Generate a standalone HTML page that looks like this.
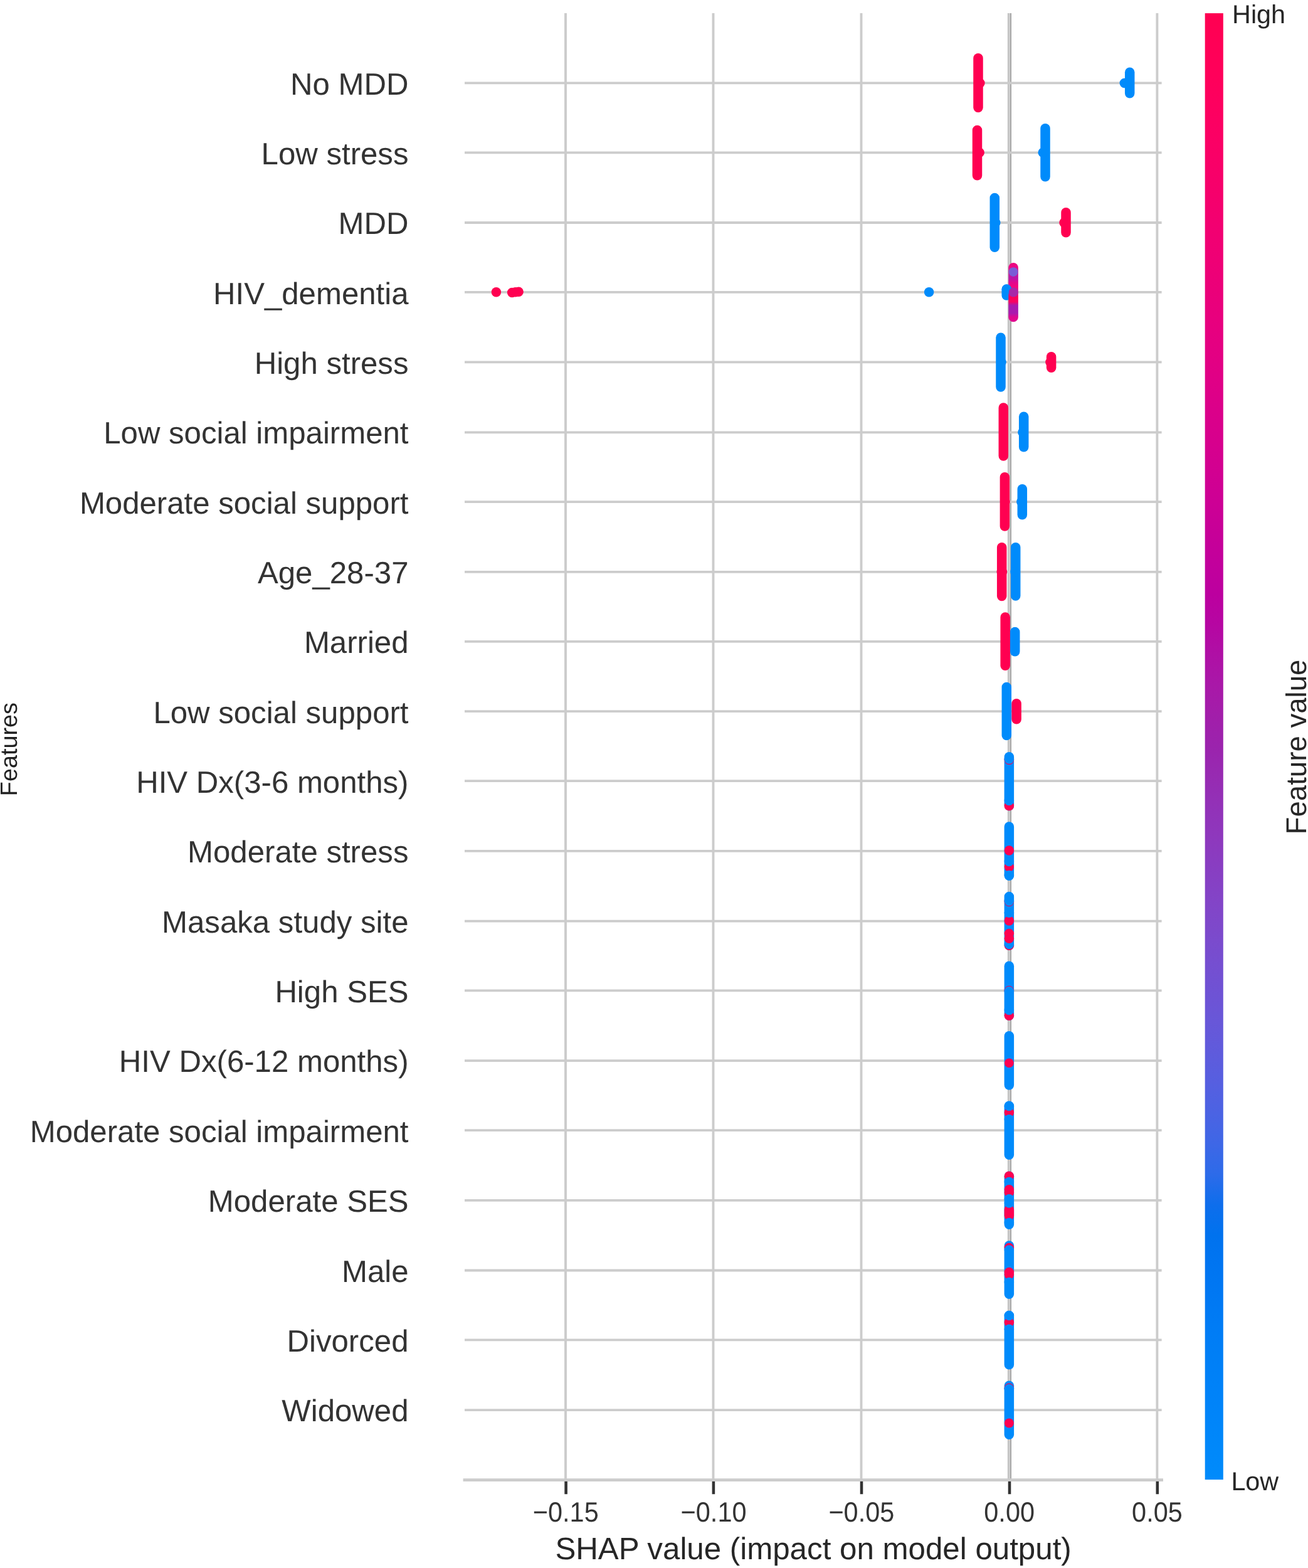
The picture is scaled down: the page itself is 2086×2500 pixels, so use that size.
<!DOCTYPE html>
<html lang="en"><head><meta charset="utf-8"><title>SHAP summary plot</title>
<style>html,body{margin:0;padding:0;background:#fff}body{width:2086px;height:2500px;overflow:hidden}svg{display:block}text{font-family:"Liberation Sans",Arial,Helvetica,sans-serif;text-rendering:geometricPrecision}.yl{font-size:49.16px;fill:#333333;text-anchor:end}.xt{font-size:41.46px;fill:#333333;text-anchor:middle}.xl{font-size:49.27px;fill:#262626;text-anchor:middle}.cb{font-size:41.3px;fill:#262626}.cl{font-size:45.6px;fill:#262626;text-anchor:middle}.fl{font-size:37.8px;fill:#222222;text-anchor:middle}</style>
</head><body>
<svg width="2086" height="2500" viewBox="0 0 2086 2500" role="img" aria-label="SHAP summary plot">
<defs><linearGradient id="cbg" x1="0" y1="1" x2="0" y2="0">
<stop offset="0.0000" stop-color="#008bfb"/>
<stop offset="0.0208" stop-color="#0088fa"/>
<stop offset="0.0417" stop-color="#0085f9"/>
<stop offset="0.0625" stop-color="#0082f8"/>
<stop offset="0.0833" stop-color="#007ff6"/>
<stop offset="0.1042" stop-color="#007cf5"/>
<stop offset="0.1250" stop-color="#0078f3"/>
<stop offset="0.1458" stop-color="#0075f1"/>
<stop offset="0.1667" stop-color="#0072ee"/>
<stop offset="0.1875" stop-color="#0e6eec"/>
<stop offset="0.2083" stop-color="#2d6be9"/>
<stop offset="0.2292" stop-color="#3e67e6"/>
<stop offset="0.2500" stop-color="#4b63e3"/>
<stop offset="0.2708" stop-color="#565fe0"/>
<stop offset="0.2917" stop-color="#5f5bdc"/>
<stop offset="0.3125" stop-color="#6857d8"/>
<stop offset="0.3333" stop-color="#6f52d4"/>
<stop offset="0.3542" stop-color="#764ed0"/>
<stop offset="0.3750" stop-color="#7d49cb"/>
<stop offset="0.3958" stop-color="#8344c7"/>
<stop offset="0.4167" stop-color="#883ec2"/>
<stop offset="0.4375" stop-color="#8e38bd"/>
<stop offset="0.4583" stop-color="#9232b8"/>
<stop offset="0.4792" stop-color="#972bb2"/>
<stop offset="0.5000" stop-color="#9b23ad"/>
<stop offset="0.5208" stop-color="#a21eaa"/>
<stop offset="0.5417" stop-color="#a918a8"/>
<stop offset="0.5625" stop-color="#af10a5"/>
<stop offset="0.5833" stop-color="#b606a2"/>
<stop offset="0.6042" stop-color="#bc009f"/>
<stop offset="0.6250" stop-color="#c2009c"/>
<stop offset="0.6458" stop-color="#c70098"/>
<stop offset="0.6667" stop-color="#cd0095"/>
<stop offset="0.6875" stop-color="#d20091"/>
<stop offset="0.7083" stop-color="#d7008d"/>
<stop offset="0.7292" stop-color="#db008a"/>
<stop offset="0.7500" stop-color="#e00086"/>
<stop offset="0.7708" stop-color="#e40082"/>
<stop offset="0.7917" stop-color="#e8007e"/>
<stop offset="0.8125" stop-color="#eb0079"/>
<stop offset="0.8333" stop-color="#ef0075"/>
<stop offset="0.8542" stop-color="#f20071"/>
<stop offset="0.8750" stop-color="#f5006c"/>
<stop offset="0.8958" stop-color="#f80068"/>
<stop offset="0.9167" stop-color="#fb0064"/>
<stop offset="0.9375" stop-color="#fd005f"/>
<stop offset="0.9583" stop-color="#ff005a"/>
<stop offset="0.9792" stop-color="#ff0056"/>
<stop offset="1.0000" stop-color="#ff0051"/>
</linearGradient>
<linearGradient id="mix" x1="0" y1="0" x2="0" y2="1">
<stop offset="0" stop-color="#ee067c"/>
<stop offset="0.1" stop-color="#e8088a"/>
<stop offset="0.26" stop-color="#b816a8"/>
<stop offset="0.33" stop-color="#e0088f"/>
<stop offset="0.4" stop-color="#f5047c"/>
<stop offset="0.5" stop-color="#c81a98"/>
<stop offset="0.58" stop-color="#ff0055"/>
<stop offset="0.66" stop-color="#f80462"/>
<stop offset="0.72" stop-color="#a81ab0"/>
<stop offset="0.85" stop-color="#a81ab0"/>
<stop offset="0.92" stop-color="#e0088f"/>
<stop offset="1" stop-color="#e0088f"/>
</linearGradient></defs>
<rect x="0" y="0" width="2086" height="2500" fill="#ffffff"/>
<g id="grid" fill="none" stroke="#cccccc">
<line x1="1610" y1="21" x2="1610" y2="2359.55" stroke="#999999" stroke-width="5.8"/>
<line x1="902" y1="21" x2="902" y2="2359.55" stroke-width="3.9"/>
<line x1="1137.5" y1="21" x2="1137.5" y2="2359.55" stroke-width="3.9"/>
<line x1="1373.5" y1="21" x2="1373.5" y2="2359.55" stroke-width="3.9"/>
<line x1="1609.45" y1="21" x2="1609.45" y2="2359.55" stroke-width="3.9"/>
<line x1="1845.4" y1="21" x2="1845.4" y2="2359.55" stroke-width="3.9"/>
<line x1="741" y1="132.4" x2="1852.6" y2="132.4" stroke-width="3.8"/>
<line x1="741" y1="243.3" x2="1852.6" y2="243.3" stroke-width="3.8"/>
<line x1="741" y1="355" x2="1852.6" y2="355" stroke-width="3.8"/>
<line x1="741" y1="465.8" x2="1852.6" y2="465.8" stroke-width="3.8"/>
<line x1="741" y1="577.4" x2="1852.6" y2="577.4" stroke-width="3.8"/>
<line x1="741" y1="689.3" x2="1852.6" y2="689.3" stroke-width="3.8"/>
<line x1="741" y1="800.1" x2="1852.6" y2="800.1" stroke-width="3.8"/>
<line x1="741" y1="911.8" x2="1852.6" y2="911.8" stroke-width="3.8"/>
<line x1="741" y1="1022.9" x2="1852.6" y2="1022.9" stroke-width="3.8"/>
<line x1="741" y1="1134.1" x2="1852.6" y2="1134.1" stroke-width="3.8"/>
<line x1="741" y1="1245.1" x2="1852.6" y2="1245.1" stroke-width="3.8"/>
<line x1="741" y1="1356.9" x2="1852.6" y2="1356.9" stroke-width="3.8"/>
<line x1="741" y1="1468.6" x2="1852.6" y2="1468.6" stroke-width="3.8"/>
<line x1="741" y1="1579.4" x2="1852.6" y2="1579.4" stroke-width="3.8"/>
<line x1="741" y1="1691.2" x2="1852.6" y2="1691.2" stroke-width="3.8"/>
<line x1="741" y1="1802.1" x2="1852.6" y2="1802.1" stroke-width="3.8"/>
<line x1="741" y1="1913.8" x2="1852.6" y2="1913.8" stroke-width="3.8"/>
<line x1="741" y1="2025.5" x2="1852.6" y2="2025.5" stroke-width="3.8"/>
<line x1="741" y1="2136.4" x2="1852.6" y2="2136.4" stroke-width="3.8"/>
<line x1="741" y1="2248.1" x2="1852.6" y2="2248.1" stroke-width="3.8"/>
<line x1="738.6" y1="2359.55" x2="1855" y2="2359.55" stroke-width="4.8"/>
</g>
<g id="ticks" stroke="#333333" stroke-width="4.6">
<line x1="902.6" y1="2361.95" x2="902.6" y2="2382.25"/>
<line x1="1137.9" y1="2361.95" x2="1137.9" y2="2382.25"/>
<line x1="1374" y1="2361.95" x2="1374" y2="2382.25"/>
<line x1="1610" y1="2361.95" x2="1610" y2="2382.25"/>
<line x1="1845.8" y1="2361.95" x2="1845.8" y2="2382.25"/>
</g>
<g id="points">
<rect x="1552.25" y="85.1" width="15.5" height="94.1" rx="7.75" ry="7.75" fill="#ff0051"/>
<circle cx="1562.9" cy="132.4" r="7.75" fill="#ff0051"/>
<rect x="1793.95" y="107.5" width="15.5" height="49.1" rx="7.75" ry="7.75" fill="#008bfb"/>
<circle cx="1793.3" cy="132.4" r="7.75" fill="#008bfb"/>
<rect x="1550.75" y="199.7" width="15.5" height="87.9" rx="7.75" ry="7.75" fill="#ff0051"/>
<circle cx="1562.2" cy="243.3" r="7.75" fill="#ff0051"/>
<rect x="1659.25" y="197" width="15.5" height="92.5" rx="7.75" ry="7.75" fill="#008bfb"/>
<circle cx="1663.2" cy="243.3" r="7.75" fill="#008bfb"/>
<rect x="1578.55" y="307.8" width="15.5" height="94.1" rx="7.75" ry="7.75" fill="#008bfb"/>
<circle cx="1587.8" cy="355" r="7.75" fill="#008bfb"/>
<rect x="1692.25" y="331.1" width="15.5" height="47.3" rx="7.75" ry="7.75" fill="#ff0051"/>
<circle cx="1697" cy="355" r="7.75" fill="#ff0051"/>
<circle cx="791.4" cy="465.8" r="7.75" fill="#ff0051"/>
<circle cx="816.6" cy="466.5" r="7.75" fill="#ff0051"/>
<circle cx="822" cy="465.8" r="7.75" fill="#ff0051"/>
<circle cx="827.1" cy="465.2" r="7.75" fill="#ff0051"/>
<circle cx="1481.6" cy="465.8" r="7.75" fill="#008bfb"/>
<rect x="1597.45" y="453.4" width="15.5" height="25.4" rx="7.75" ry="7.75" fill="#008bfb"/>
<rect x="1608.35" y="419" width="15.5" height="94.3" rx="7.75" ry="7.75" fill="url(#mix)"/>
<circle cx="1605.4" cy="461" r="7.75" fill="#008bfb"/>
<circle cx="1616.1" cy="433.6" r="7.4" fill="#7a5cd6"/>
<circle cx="1616.1" cy="466" r="7.4" fill="#a828a8"/>
<rect x="1588.25" y="530.5" width="15.5" height="94.2" rx="7.75" ry="7.75" fill="#008bfb"/>
<circle cx="1597" cy="577.4" r="7.75" fill="#008bfb"/>
<rect x="1668.85" y="561" width="15.5" height="32.9" rx="7.75" ry="7.75" fill="#ff0051"/>
<circle cx="1674.9" cy="577.4" r="7.75" fill="#ff0051"/>
<rect x="1592.55" y="642.2" width="15.5" height="92.5" rx="7.75" ry="7.75" fill="#ff0051"/>
<rect x="1624.95" y="656.4" width="15.5" height="64.2" rx="7.75" ry="7.75" fill="#008bfb"/>
<circle cx="1630.9" cy="689.3" r="7.75" fill="#008bfb"/>
<rect x="1594.65" y="753.1" width="15.5" height="93.7" rx="7.75" ry="7.75" fill="#ff0051"/>
<circle cx="1603" cy="800.1" r="7.75" fill="#ff0051"/>
<rect x="1622.55" y="772" width="15.5" height="56.5" rx="7.75" ry="7.75" fill="#008bfb"/>
<circle cx="1628.8" cy="800.1" r="7.75" fill="#008bfb"/>
<rect x="1589.95" y="864.9" width="15.5" height="93.4" rx="7.75" ry="7.75" fill="#ff0051"/>
<circle cx="1597.2" cy="911.8" r="7.75" fill="#ff0051"/>
<circle cx="1598.4" cy="911.8" r="7.75" fill="#ff0051"/>
<rect x="1611.95" y="864.9" width="15.5" height="92.8" rx="7.75" ry="7.75" fill="#008bfb"/>
<circle cx="1618.9" cy="911.8" r="7.75" fill="#008bfb"/>
<rect x="1595.45" y="976.2" width="15.5" height="92.8" rx="7.75" ry="7.75" fill="#ff0051"/>
<rect x="1610.95" y="999.7" width="15.5" height="46.7" rx="7.75" ry="7.75" fill="#008bfb"/>
<rect x="1597.55" y="1087.8" width="15.5" height="92.5" rx="7.75" ry="7.75" fill="#008bfb"/>
<rect x="1613.35" y="1113.9" width="15.5" height="40.7" rx="7.75" ry="7.75" fill="#ff0051"/>
<rect x="1601.6" y="1198.9" width="15.5" height="93.7" rx="7.75" ry="7.75" fill="#008bfb"/>
<circle cx="1609.35" cy="1211.6" r="7.75" fill="#ff0051"/>
<circle cx="1609.35" cy="1210.2" r="7.75" fill="#008bfb"/>
<circle cx="1609.35" cy="1284.85" r="7.75" fill="#ff0051"/>
<circle cx="1609.35" cy="1276.6" r="7.75" fill="#008bfb"/>
<rect x="1601.6" y="1310.3" width="15.5" height="93.7" rx="7.75" ry="7.75" fill="#008bfb"/>
<circle cx="1609.35" cy="1382" r="7.75" fill="#ff0051"/>
<circle cx="1609.35" cy="1373.6" r="7.75" fill="#008bfb"/>
<circle cx="1609.35" cy="1395.6" r="7.75" fill="#008bfb"/>
<circle cx="1609.35" cy="1356" r="7.75" fill="#ff0051"/>
<rect x="1601.6" y="1421.7" width="15.5" height="93.2" rx="7.75" ry="7.75" fill="#008bfb"/>
<circle cx="1609.35" cy="1437.6" r="7.75" fill="#ff0051"/>
<circle cx="1609.35" cy="1436.4" r="7.75" fill="#008bfb"/>
<circle cx="1609.35" cy="1507.15" r="7.75" fill="#ff0051"/>
<circle cx="1609.35" cy="1505.4" r="7.75" fill="#008bfb"/>
<circle cx="1609.35" cy="1468" r="7.75" fill="#ff0051"/>
<circle cx="1609.35" cy="1455.2" r="7.75" fill="#008bfb"/>
<circle cx="1609.35" cy="1488.6" r="7.75" fill="#ff0051"/>
<circle cx="1609.35" cy="1496.2" r="7.75" fill="#ff0051"/>
<rect x="1601.6" y="1532.6" width="15.5" height="94.3" rx="7.75" ry="7.75" fill="#008bfb"/>
<circle cx="1609.35" cy="1579.4" r="7.75" fill="#ff0051"/>
<circle cx="1609.35" cy="1580.4" r="7.75" fill="#008bfb"/>
<circle cx="1609.35" cy="1619.15" r="7.75" fill="#ff0051"/>
<circle cx="1609.35" cy="1610.4" r="7.75" fill="#008bfb"/>
<rect x="1601.6" y="1644" width="15.5" height="93.7" rx="7.75" ry="7.75" fill="#008bfb"/>
<circle cx="1609.35" cy="1694.8" r="7.4" fill="#ff0051"/>
<rect x="1601.6" y="1755.4" width="15.5" height="93.7" rx="7.75" ry="7.75" fill="#008bfb"/>
<circle cx="1609.35" cy="1773.7" r="7.75" fill="#ff0051"/>
<circle cx="1609.35" cy="1763.4" r="7.75" fill="#008bfb"/>
<circle cx="1609.35" cy="1784.8" r="7.75" fill="#008bfb"/>
<rect x="1601.6" y="1867.4" width="15.5" height="92.6" rx="7.75" ry="7.75" fill="#008bfb"/>
<circle cx="1609.35" cy="1875.15" r="7.75" fill="#ff0051"/>
<circle cx="1609.35" cy="1884.4" r="7.75" fill="#008bfb"/>
<circle cx="1609.35" cy="1896.8" r="7.75" fill="#ff0051"/>
<circle cx="1609.35" cy="1901.5" r="7.75" fill="#ff0051"/>
<circle cx="1609.35" cy="1911.8" r="7.75" fill="#008bfb"/>
<rect x="1601.6" y="1921" width="15.5" height="25" rx="7.75" ry="7.75" fill="#ff0051"/>
<circle cx="1609.35" cy="1917.9" r="7.75" fill="#008bfb"/>
<circle cx="1609.35" cy="1949.6" r="7.75" fill="#008bfb"/>
<rect x="1601.6" y="1978.3" width="15.5" height="92.6" rx="7.75" ry="7.75" fill="#008bfb"/>
<circle cx="1609.35" cy="1989.6" r="7.75" fill="#ff0051"/>
<circle cx="1609.35" cy="1993" r="7.75" fill="#008bfb"/>
<circle cx="1609.35" cy="2028.4" r="7.75" fill="#ff0051"/>
<circle cx="1609.35" cy="2032" r="7.75" fill="#ff0051"/>
<circle cx="1609.35" cy="2044.6" r="7.75" fill="#008bfb"/>
<rect x="1601.6" y="2089.7" width="15.5" height="93.7" rx="7.75" ry="7.75" fill="#008bfb"/>
<circle cx="1609.35" cy="2108.6" r="7.75" fill="#ff0051"/>
<circle cx="1609.35" cy="2097.6" r="7.75" fill="#008bfb"/>
<circle cx="1609.35" cy="2119.2" r="7.75" fill="#008bfb"/>
<rect x="1601.6" y="2201.5" width="15.5" height="93.4" rx="7.75" ry="7.75" fill="#008bfb"/>
<circle cx="1609.35" cy="2213.2" r="7.75" fill="#ff0051"/>
<circle cx="1609.35" cy="2214.4" r="7.75" fill="#008bfb"/>
<circle cx="1609.35" cy="2268.9" r="7.5" fill="#ff0051"/>
</g>
<rect x="1921.7" y="21.1" width="29.1" height="2338" fill="url(#cbg)"/>
<g id="ylabels">
<text class="yl" x="651.5" y="150.65">No MDD</text>
<text class="yl" x="651.5" y="262">Low stress</text>
<text class="yl" x="651.5" y="373.34">MDD</text>
<text class="yl" x="651.5" y="484.68">HIV_dementia</text>
<text class="yl" x="651.5" y="596.03">High stress</text>
<text class="yl" x="651.5" y="707.38">Low social impairment</text>
<text class="yl" x="651.5" y="818.72">Moderate social support</text>
<text class="yl" x="651.5" y="930.06">Age_28-37</text>
<text class="yl" x="651.5" y="1041.41">Married</text>
<text class="yl" x="651.5" y="1152.76">Low social support</text>
<text class="yl" x="651.5" y="1264.1">HIV Dx(3-6 months)</text>
<text class="yl" x="651.5" y="1375.45">Moderate stress</text>
<text class="yl" x="651.5" y="1486.79">Masaka study site</text>
<text class="yl" x="651.5" y="1598.13">High SES</text>
<text class="yl" x="651.5" y="1709.48">HIV Dx(6-12 months)</text>
<text class="yl" x="651.5" y="1820.83">Moderate social impairment</text>
<text class="yl" x="651.5" y="1932.17">Moderate SES</text>
<text class="yl" x="651.5" y="2043.52">Male</text>
<text class="yl" x="651.5" y="2154.86">Divorced</text>
<text class="yl" x="651.5" y="2266.2">Widowed</text>
</g>
<g id="xticks">
<text class="xt" transform="translate(902.25 2426.0) scale(1 1.068)">−0.15</text>
<text class="xt" transform="translate(1138.05 2426.0) scale(1 1.068)">−0.10</text>
<text class="xt" transform="translate(1373.85 2426.0) scale(1 1.068)">−0.05</text>
<text class="xt" transform="translate(1609.65 2426.0) scale(1 1.068)">0.00</text>
<text class="xt" transform="translate(1845.45 2426.0) scale(1 1.068)">0.05</text>
</g>
<text class="xl" x="1297.1" y="2486">SHAP value (impact on model output)</text>
<text class="cb" x="1965.1" y="37">High</text>
<text class="cb" x="1963.4" y="2375.5">Low</text>
<text class="cl" transform="translate(2082.5 1191) rotate(-90)">Feature value</text>
<text class="fl" transform="translate(27 1194.6) rotate(-90)">Features</text>
</svg></body></html>
